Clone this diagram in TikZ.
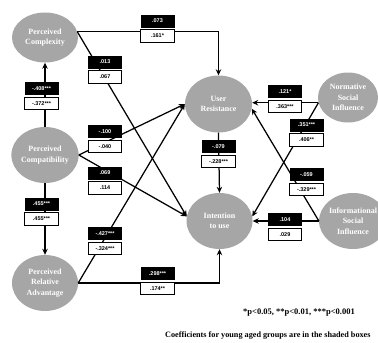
\documentclass[tikz,border=0pt]{standalone}
\usepackage{fontspec}
\setmainfont{Liberation Serif}
\newfontfamily\coeffont{Liberation Sans}
\usetikzlibrary{shapes.geometric,arrows.meta}
\definecolor{ellgray}{HTML}{A6A6A6}
\tikzset{
  construct/.style={ellipse, fill=ellgray, draw=none, inner sep=0pt,
    minimum width=66pt, minimum height=56pt, text=white, align=center,
    font=\fontsize{8}{10.5}\selectfont\bfseries},
  path/.style={line width=1.25pt, -{Stealth[length=6pt,width=5.5pt]}},
  blackbox/.style={fill=black, text=white, minimum width=34pt, minimum height=13pt,
    inner sep=0pt, font=\coeffont\fontsize{5.5}{6}\selectfont\bfseries},
  whitebox/.style={draw=black, line width=0.6pt, fill=white, text=black, minimum width=33.5pt,
    minimum height=12.5pt, inner sep=0pt, font=\coeffont\fontsize{5.5}{6}\selectfont\bfseries},
  note/.style={font=\fontsize{8.5}{10}\selectfont\bfseries, inner sep=0pt}
}
\newcommand{\coefpair}[5]{%
  \node[blackbox] (#1b) at (#2,#3) {#4};
  \node[whitebox] (#1w) at (#2,#3+15) {#5};
}
\begin{document}
\begin{tikzpicture}[x=1pt,y=-1pt]
\useasboundingbox (0,0) rectangle (378,343);
\clip (0,0) rectangle (378,343);
% constructs
\node[construct, minimum height=50pt] (PC) at (45,37.5) {Perceived\\Complexity};
\node[construct] (CO) at (45,155) {Perceived\\Compatibility};
\node[construct] (RA) at (45,283) {Perceived\\Relative\\Advantage};
\node[construct, minimum width=67pt, minimum height=57pt] (UR) at (218.5,104) {User\\Resistance};
\node[construct] (IU) at (219.5,221) {Intention\\to use};
\node[construct, minimum width=60pt, minimum height=50pt] (NSI) at (348,97.5) {Normative\\Social\\Influence};
\node[construct, minimum width=64pt] (ISI) at (353,221) {Informational\\Social\\Influence};
% connectors
\draw[path] (PC.10) -| (UR.north);
\draw[path] (PC.10) -- (IU.172);
\draw[path] (CO.north) -- (PC.south);
\draw[path] (CO.south) -- (RA.north);
\draw[path] (CO.east) -- (UR.west);
\draw[path] (CO.east) -- (IU.172);
\draw[path] (RA.east) -- (UR.west);
\draw[path] (RA.east) -| (IU.south);
\draw[path] (UR.south) -- (IU.north);
\draw[path] (NSI.190) -- (NSI.190 -| UR.east);
\draw[path] (NSI.190) -- (IU.8);
\draw[path] (ISI.west) -- (UR.-8);
\draw[path] (ISI.west) -- (IU.east);
% coefficients
\coefpair{c1}{157.5}{21}{.073}{.161*}
\coefpair{c2}{105}{62}{.013}{.067}
\coefpair{c3}{41.5}{88.5}{-.408***}{-.372***}
\coefpair{c4}{105}{131.5}{-.100}{-.040}
\coefpair{c5}{105}{173}{.069}{.114}
\coefpair{c6}{41.5}{204}{.455***}{.455***}
\coefpair{c7}{105}{233.5}{-.427***}{-.324***}
\coefpair{c8}{157.5}{273.5}{.298***}{.174**}
\coefpair{c9}{285}{91.5}{.121*}{.363***}
\coefpair{c10}{306.5}{125}{.351***}{.406**}
\coefpair{c11}{218.5}{146.5}{-.079}{-.228***}
\coefpair{c12}{306.5}{174.5}{-.059}{-.329***}
\coefpair{c13}{285}{219.5}{.104}{.029}
% notes
\node[note] (sig) at (299,313) {*p<0.05, **p<0.01, ***p<0.001};
\node[note, anchor=west, font=\fontsize{8.2}{10}\selectfont\bfseries] (cap) at (165,335.5) {Coefficients for young aged groups are in the shaded boxes};
\end{tikzpicture}
\end{document}
